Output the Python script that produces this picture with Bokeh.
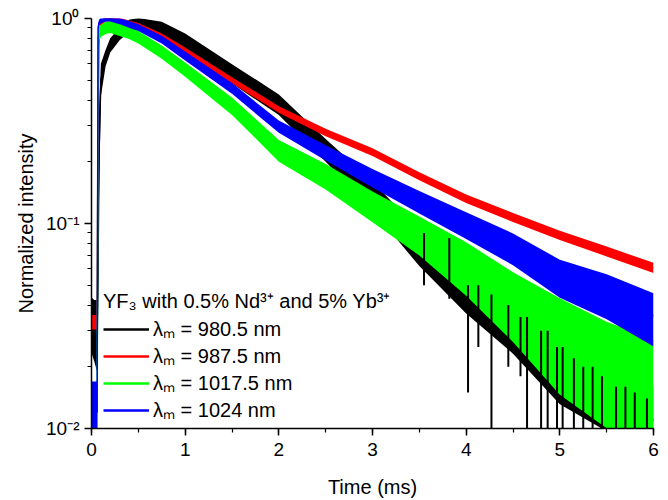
from bokeh.plotting import figure
from bokeh.models import (Range1d, SingleIntervalTicker, FixedTicker, CustomJSTickFormatter,
                          Legend, LegendItem, ColumnDataSource)
from bokeh.embed import file_html
from bokeh.resources import INLINE

# ---- data ----
time_ms = [0.0, 0.03, 0.06, 0.07, 0.08, 0.1, 0.15, 0.2, 0.3, 0.4, 0.5, 0.75, 1.0,
           1.5, 2.0, 2.5, 3.0, 3.5, 4.0, 4.5, 5.0, 5.5, 6.0]

black_mid = [0.033, 0.030, 0.030, 0.06, 0.22, 0.50, 0.64, 0.74, 0.84, 0.92, 0.96, 0.90, 0.78,
             0.54, 0.38, 0.23, 0.14, 0.078, 0.048, 0.032, 0.019, 0.014, 0.011]
black_up = [0.12, 0.15, 0.15, 0.2, 0.2, 0.08, 0.04, 0.035, 0.03, 0.03, 0.02, 0.03, 0.035,
            0.045, 0.05, 0.05, 0.06, 0.07, 0.08, 0.1, 0.12, 0.14, 0.16]
black_down = [0.15, 0.15, 0.2, 0.3, 0.25, 0.08, 0.04, 0.035, 0.03, 0.03, 0.03, 0.035, 0.04,
              0.05, 0.05, 0.06, 0.08, 0.1, 0.12, 0.14, 0.16, 0.16, 0.16]
# deep downward black spikes (time, top, bottom)
spike_t = [3.55, 3.82, 4.02, 4.13, 4.27, 4.45, 4.58, 4.65, 4.80, 4.87, 4.97, 5.03, 5.15, 5.25,
           5.35, 5.45, 5.60, 5.70, 5.80, 5.93]
spike_top = [0.09, 0.085, 0.05, 0.05, 0.045, 0.04, 0.035, 0.035, 0.03, 0.03, 0.025, 0.025,
             0.022, 0.02, 0.02, 0.018, 0.016, 0.016, 0.015, 0.014]
spike_bottom = [0.05, 0.043, 0.015, 0.025, 0.009, 0.02, 0.018, 0.009, 0.009, 0.009, 0.009,
                0.009, 0.009, 0.009, 0.009, 0.009, 0.009, 0.009, 0.009, 0.009]

red_mid = [0.033, 0.033, 0.033, 0.30, 0.80, 0.95, 0.99, 1.0, 0.98, 0.95, 0.925, 0.82, 0.70,
           0.50, 0.36, 0.278, 0.223, 0.17, 0.132, 0.107, 0.0875, 0.073, 0.0607]
red_up = [0.035, 0.035, 0.035, 0.05, 0.03, 0.012, 0.012, 0.012, 0.012, 0.012, 0.012, 0.013, 0.014,
          0.015, 0.016, 0.018, 0.019, 0.02, 0.021, 0.022, 0.023, 0.024, 0.025]
red_down = red_up

green_mid = [0.008, 0.008, 0.008, 0.80, 0.85, 0.87, 0.90, 0.91, 0.88, 0.85, 0.81, 0.69, 0.57,
             0.38, 0.23, 0.172, 0.122, 0.088, 0.06, 0.04, 0.026, 0.02, 0.016]
green_up = [0.02, 0.02, 0.02, 0.03, 0.03, 0.03, 0.03, 0.03, 0.03, 0.03, 0.03, 0.03, 0.03,
            0.035, 0.045, 0.055, 0.07, 0.09, 0.13, 0.16, 0.22, 0.22, 0.23]
green_down = [0.02, 0.02, 0.02, 0.1, 0.04, 0.03, 0.03, 0.03, 0.03, 0.03, 0.03, 0.035, 0.04,
              0.05, 0.06, 0.07, 0.08, 0.1, 0.13, 0.18, 0.25, 0.3, 0.32]

blue_mid = [0.012, 0.012, 0.012, 0.90, 0.95, 0.98, 1.0, 1.0, 0.97, 0.94, 0.905, 0.79, 0.66,
            0.46, 0.30, 0.225, 0.17, 0.13, 0.10, 0.077, 0.056, 0.046, 0.0355]
blue_up = [0.15, 0.15, 0.15, 0.02, 0.015, 0.015, 0.015, 0.015, 0.015, 0.015, 0.015, 0.018, 0.02,
           0.022, 0.025, 0.03, 0.035, 0.045, 0.055, 0.065, 0.075, 0.09, 0.11]
blue_down = [0.3, 0.3, 0.3, 0.02, 0.015, 0.015, 0.015, 0.015, 0.015, 0.018, 0.018, 0.02, 0.025,
             0.03, 0.035, 0.045, 0.055, 0.065, 0.075, 0.09, 0.11, 0.13, 0.15]

series_labels = ["λₘ = 980.5 nm", "λₘ = 987.5 nm", "λₘ = 1017.5 nm", "λₘ = 1024 nm"]
series_colors = ["#000000", "#ff0000", "#00ff00", "#0000ff"]
legend_title = "YF₃ with 0.5% Nd³⁺ and 5% Yb³⁺"

y_major = [0.01, 0.1, 1.0]
y_minor = [0.02, 0.03, 0.04, 0.05, 0.06, 0.07, 0.08, 0.09,
           0.2, 0.3, 0.4, 0.5, 0.6, 0.7, 0.8, 0.9]

FONT = "Liberation Sans"

p = figure(width=668, height=500, x_range=Range1d(0, 6), y_range=Range1d(0.01, 1.0),
           y_axis_type="log", output_backend="svg", toolbar_location=None,
           min_border_left=91, min_border_right=15, min_border_top=18, min_border_bottom=68)
p.outline_line_color = None
p.grid.visible = False
p.background_fill_color = "white"

def band(mid, up, down):
    hi = [m * 10 ** u for m, u in zip(mid, up)]
    lo = [m / 10 ** d for m, d in zip(mid, down)]
    return lo, hi

series = {
    "black": (black_mid, black_up, black_down, series_colors[0]),
    "red": (red_mid, red_up, red_down, series_colors[1]),
    "green": (green_mid, green_up, green_down, series_colors[2]),
    "blue": (blue_mid, blue_up, blue_down, series_colors[3]),
}

def draw(name):
    mid, up, down, col = series[name]
    lo, hi = band(mid, up, down)
    src = ColumnDataSource(dict(t=time_ms, mid=mid, lo=lo, hi=hi))
    p.varea(x="t", y1="lo", y2="hi", source=src, fill_color=col)
    p.line(x="t", y="mid", source=src, line_color=col, line_width=1.5)

draw("black")
draw("red")
draw("green")
p.segment(x0=spike_t, y0=spike_top, x1=spike_t, y1=spike_bottom,
          line_color="black", line_width=2)
draw("blue")

# legend samples (renderers without visible points)
nan = float("nan")
items = []
for lab, col in zip(series_labels, series_colors):
    r = p.line(x=[nan], y=[nan], line_color=col, line_width=2.5)
    items.append(LegendItem(label=lab, renderers=[r]))

legend = Legend(items=items, location=(12, 5), title=legend_title,
                title_text_font=FONT, title_text_font_size="20px", title_text_font_style="normal",
                title_text_color="black", title_standoff=1,
                label_text_font=FONT, label_text_font_size="20px", label_text_color="black",
                glyph_width=46, glyph_height=20, label_height=20, label_standoff=4, spacing=0,
                padding=0, margin=0, border_line_color=None, background_fill_alpha=0)
p.add_layout(legend, "center")

# axes
p.xaxis.ticker = SingleIntervalTicker(interval=1, num_minor_ticks=2)
p.yaxis.ticker = FixedTicker(ticks=y_major, minor_ticks=y_minor)
p.yaxis.formatter = CustomJSTickFormatter(code="""
const sup = {'-':'\u207b','0':'\u2070','1':'\u00b9','2':'\u00b2','3':'\u00b3'};
const e = Math.round(Math.log10(tick));
return '10' + String(e).split('').map(c => sup[c]).join('');
""")
for ax in (p.xaxis, p.yaxis):
    ax.axis_line_color = "black"
    ax.axis_line_width = 1.5
    ax.major_tick_line_color = "black"
    ax.minor_tick_line_color = "black"
    ax.major_tick_line_width = 1.5
    ax.minor_tick_line_width = 1.2
    ax.major_tick_in = 0
    ax.major_tick_out = 7
    ax.minor_tick_in = 0
    ax.minor_tick_out = 4
    ax.major_label_text_font = FONT
    ax.major_label_text_font_size = "19px"
    ax.major_label_text_color = "black"
    ax.axis_label_text_font = FONT
    ax.axis_label_text_font_size = "20px"
    ax.axis_label_text_font_style = "normal"
    ax.axis_label_text_color = "black"
p.xaxis.axis_label = "Time (ms)"
p.yaxis.axis_label = "Normalized intensity"
p.xaxis.major_label_standoff = 7
p.xaxis.axis_label_standoff = 17
p.yaxis.major_label_standoff = 5
p.yaxis.axis_label_standoff = 6

open("out.html", "w").write(file_html(p, INLINE))
